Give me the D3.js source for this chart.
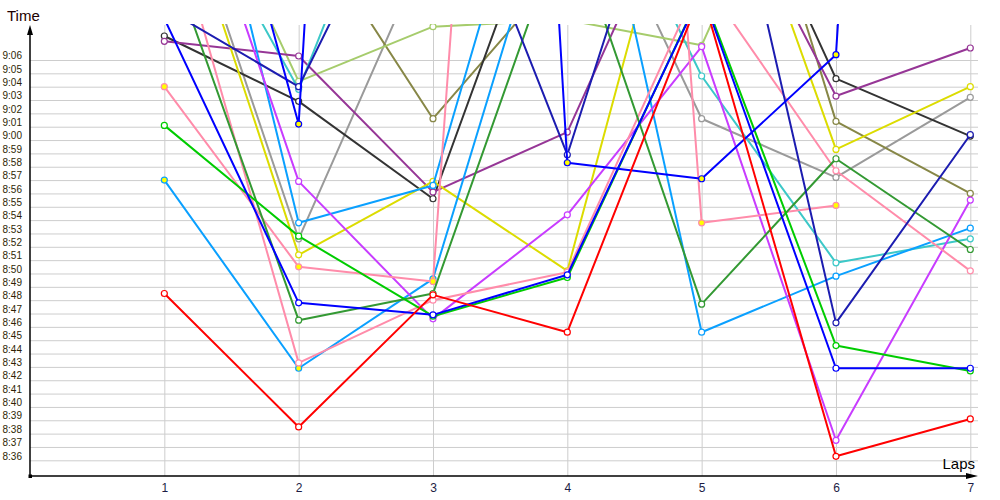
<!DOCTYPE html>
<html>
<head>
<meta charset="utf-8">
<script src="https://cdn.jsdelivr.net/npm/d3@7"></script>
<style>
  html, body { margin: 0; padding: 0; background: #fff; }
  svg { display: block; }
</style>
</head>
<body>
<svg></svg>
<script>
const laps = [1, 2, 3, 4, 5, 6, 7];

const timeTicks = [
    '8:36', '8:37', '8:38', '8:39', '8:40', '8:41', '8:42', '8:43', '8:44', '8:45',
    '8:46', '8:47', '8:48', '8:49', '8:50', '8:51', '8:52', '8:53', '8:54', '8:55',
    '8:56', '8:57', '8:58', '8:59', '9:00', '9:01', '9:02', '9:03', '9:04', '9:05', '9:06'
];

// lap times per car, m:ss.s (values above 9:08 are off the top of the chart)
const red        = ['8:48.5', '8:38.5', '8:48.4', '8:45.6', '9:11.1', '8:36.3', '8:39.1'];
const green      = ['9:01.1', '8:52.8', '8:46.8', '8:49.7', '9:11.2', '8:44.6', '8:42.7'];
const darkGreen  = ['9:14.8', '8:46.5', '8:48.5', '9:17.0', '8:47.7', '8:58.6', '8:51.8'];
const blue       = ['9:09.1', '8:47.8', '8:46.9', '8:49.9', '9:11.1', '8:42.9', '8:42.9'];
const blueYellow = ['9:37.8', '9:01.2', '11:50.0', '8:58.3', '8:57.1', '9:06.4', '11:45.0'];
const navy       = ['9:09.9', '9:04.0', '9:24.4', '8:58.9', '9:30.2', '8:46.3', '9:00.4'];
const skyYellow  = ['8:57.0', '8:42.9', '8:49.6', '9:22.7'];
const sky        = ['9:35.0', '8:53.8', '8:56.6', '9:31.0', '8:45.6', '8:49.8', '8:53.4'];
const cyan       = ['9:22.0', '9:03.8', '9:29.2', '9:25.5', '9:04.8', '8:50.8', '8:52.6'];
const pinkYellow = ['9:04.0', '8:50.5', '8:49.4', '11:10.0', '8:53.8', '8:55.1'];
const pink       = ['9:18.6', '8:43.3', '8:48.0', '8:50.1', '9:12.2', '8:57.7', '8:50.2'];
const violet     = ['9:26.4', '8:56.9', '8:46.6', '8:54.4', '9:07.0', '8:37.5', '8:55.5'];
const plum       = ['9:07.4', '9:06.3', '8:56.1', '9:00.6', '9:22.8', '9:03.3', '9:06.9'];
const yellow     = ['9:22.0', '8:51.4', '8:56.9', '8:50.2', '9:27.5', '8:59.3', '9:04.0'];
const lightGreen = ['9:26.0', '9:04.4', '9:08.5', '9:09.0', '9:07.1', '9:29.4', '9:25.0'];
const olive      = ['9:20.0', '9:17.1', '9:01.6', '9:13.2', '9:34.0', '9:01.4', '8:56.0'];
const black      = ['9:07.8', '9:02.9', '8:55.6', '9:23.2', '9:26.5', '9:04.6', '9:00.3'];
const gray       = ['9:22.4', '8:52.6', '9:15.4', '9:22.9', '9:01.6', '8:57.2', '9:03.2'];

const series = [
    { times: gray,       color: '#9a9a9a', fill: '#fff' },
    { times: olive,      color: '#878747', fill: '#fff' },
    { times: lightGreen, color: '#a6cc6c', fill: '#fff' },
    { times: black,      color: '#333333', fill: '#fff' },
    { times: plum,       color: '#963696', fill: '#fff' },
    { times: yellow,     color: '#dcdc00', fill: '#fff' },
    { times: cyan,       color: '#3cc8c8', fill: '#fff' },
    { times: sky,        color: '#0aa0ff', fill: '#fff' },
    { times: skyYellow,  color: '#0aa0ff', fill: '#ffff00' },
    { times: violet,     color: '#c83cff', fill: '#fff' },
    { times: pink,       color: '#ff8caa', fill: '#fff' },
    { times: pinkYellow, color: '#ff8caa', fill: '#ffff00' },
    { times: darkGreen,  color: '#339933', fill: '#fff' },
    { times: navy,       color: '#1c1cb0', fill: '#fff' },
    { times: green,      color: '#00cc00', fill: '#fff' },
    { times: blueYellow, color: '#0000ff', fill: '#ffff00' },
    { times: blue,       color: '#0000ff', fill: '#fff' },
    { times: red,        color: '#ff0000', fill: '#fff' }
];

const toSeconds = (s) => {
    const [m, sec] = s.split(':');
    return +m * 60 + +sec;
};

const width = 1000;
const height = 500;
const plotLeft = 30;
const plotBottom = 476;
const plotTop = 24;
const plotRight = 978;

const svg = d3.select('svg')
    .attr('width', width)
    .attr('height', height)
    .style('font-family', '"Liberation Sans", Arial, sans-serif');

const x = d3.scaleLinear()
    .domain([0, 7])
    .range([plotLeft, 970.3]);

const y = d3.scaleLinear()
    .domain([toSeconds('8:36'), toSeconds('9:06')])
    .range([460.3, 60]);

const tickSeconds = timeTicks.map(toSeconds);

// grid
svg.append('g')
    .attr('class', 'grid-y')
    .attr('transform', `translate(${plotLeft},0)`)
    .call(d3.axisLeft(y).tickValues(tickSeconds).tickSize(-(plotRight - plotLeft)).tickFormat(''))
    .call(g => g.select('.domain').remove())
    .call(g => g.selectAll('line').attr('stroke', '#cdcdcd'));

svg.append('g')
    .attr('class', 'grid-x')
    .attr('transform', `translate(0,${plotBottom})`)
    .call(d3.axisBottom(x).tickValues(laps).tickSize(-(plotBottom - plotTop - 1)).tickFormat(''))
    .call(g => g.select('.domain').remove())
    .call(g => g.selectAll('line').attr('stroke', '#cdcdcd'));

// tick labels
svg.append('g')
    .attr('transform', `translate(${plotLeft},0)`)
    .call(d3.axisLeft(y).tickValues(tickSeconds).tickSize(0).tickPadding(8)
        .tickFormat((d, i) => timeTicks[i]))
    .call(g => g.select('.domain').remove())
    .call(g => g.selectAll('text')
        .attr('y', -4.5)
        .attr('fill', '#2e1f04')
        .style('font-size', '10px'));

svg.append('g')
    .attr('transform', `translate(0,${plotBottom})`)
    .call(d3.axisBottom(x).tickValues(laps).tickSize(0).tickPadding(7.5)
        .tickFormat(d3.format('d')))
    .call(g => g.select('.domain').remove())
    .call(g => g.selectAll('text')
        .attr('fill', '#1c1c44')
        .style('font-size', '12px'));

// lines and markers, clipped at the top of the plot
svg.append('clipPath')
    .attr('id', 'plot-clip')
    .append('rect')
    .attr('x', 0)
    .attr('y', plotTop)
    .attr('width', width)
    .attr('height', plotBottom - plotTop);

const plot = svg.append('g')
    .attr('clip-path', 'url(#plot-clip)');

const line = d3.line()
    .x((d, i) => x(laps[i]))
    .y(d => y(toSeconds(d)));

const car = plot.selectAll('.car')
    .data(series)
    .enter()
    .append('g')
    .attr('class', 'car');

car.append('path')
    .attr('d', s => line(s.times))
    .attr('fill', 'none')
    .attr('stroke', s => s.color)
    .attr('stroke-width', 2)
    .attr('stroke-linejoin', 'round');

car.selectAll('circle')
    .data(s => s.times.map((t, i) => ({ t, i, s })))
    .enter()
    .append('circle')
    .attr('cx', d => x(laps[d.i]))
    .attr('cy', d => y(toSeconds(d.t)))
    .attr('r', 3)
    .attr('fill', d => d.s.fill)
    .attr('stroke', d => d.s.color)
    .attr('stroke-width', 1.2);

// axes with arrows
svg.append('line')
    .attr('x1', plotLeft).attr('y1', plotBottom)
    .attr('x2', plotLeft).attr('y2', 34)
    .attr('stroke', '#000')
    .attr('stroke-width', 1.5);

svg.append('path')
    .attr('d', `M${plotLeft},25 L${plotLeft - 3},35 L${plotLeft + 3},35 Z`)
    .attr('fill', '#000');

svg.append('line')
    .attr('x1', plotLeft).attr('y1', plotBottom)
    .attr('x2', 968).attr('y2', plotBottom)
    .attr('stroke', '#000')
    .attr('stroke-width', 1.5);

svg.append('path')
    .attr('d', `M${plotRight},${plotBottom} L966,${plotBottom - 3} L966,${plotBottom + 3} Z`)
    .attr('fill', '#000');

svg.append('rect')
    .attr('x', plotLeft - 1.5)
    .attr('y', plotBottom - 1.5)
    .attr('width', 3.5)
    .attr('height', 3.5)
    .attr('fill', '#000');

svg.append('text')
    .attr('x', 7)
    .attr('y', 21)
    .attr('fill', '#1e0000')
    .style('font-size', '15px')
    .text('Time');

svg.append('text')
    .attr('x', 975)
    .attr('y', 469)
    .attr('text-anchor', 'end')
    .attr('fill', '#000')
    .style('font-size', '15px')
    .text('Laps');
</script>
</body>
</html>
